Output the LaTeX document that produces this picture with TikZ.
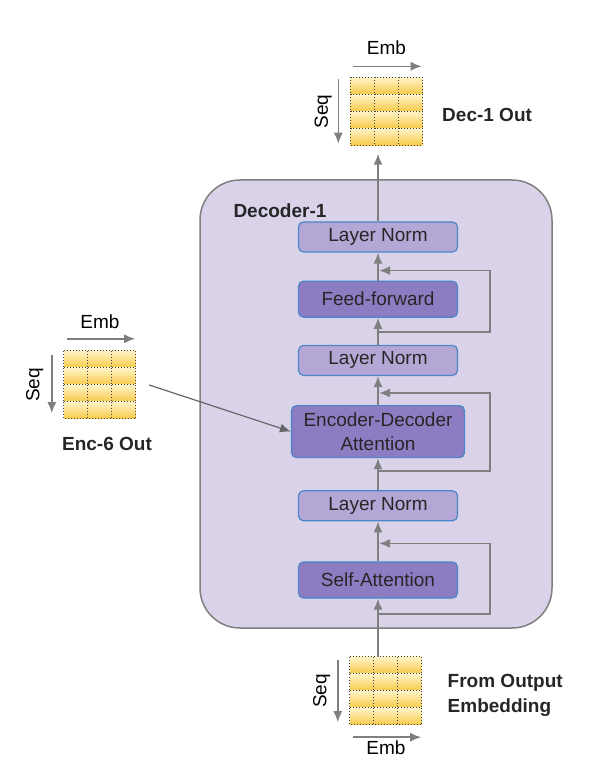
\documentclass[tikz,border=0pt]{standalone}
\usepackage{fontspec}
\setmainfont{Liberation Sans}
\usetikzlibrary{arrows.meta, positioning, calc}

\definecolor{declav}{HTML}{D9D2E9}
\definecolor{normfill}{HTML}{B4A7D6}
\definecolor{blkfill}{HTML}{8E7CC3}
\definecolor{edgeblue}{HTML}{4A86C8}
\definecolor{linegray}{HTML}{7F7F7F}
\definecolor{celltop}{HTML}{FFF4C8}
\definecolor{cellbot}{HTML}{F7C948}

\begin{document}
\begin{tikzpicture}[
    x=1bp, y=1bp,
    >={Latex[length=11bp,width=9bp]},
    font=\fontsize{19bp}{24bp}\selectfont,
    decbox/.style={
        rectangle,
        rounded corners=40bp,
        draw=linegray,
        line width=1.5bp,
        fill=declav,
        minimum width=352bp,
        minimum height=448bp
    },
    norm/.style={
        rectangle,
        rounded corners=5bp,
        draw=edgeblue,
        line width=1.2bp,
        fill=normfill,
        minimum width=159bp,
        minimum height=30bp,
        inner sep=0pt,
        align=center,
        text=black!85
    },
    block/.style={
        norm,
        fill=blkfill,
        minimum height=36bp
    },
    grid/.style={
        rectangle,
        minimum width=72bp,
        minimum height=68bp,
        inner sep=0pt
    },
    cell/.style={
        draw=black!75,
        dotted,
        line width=1bp,
        top color=celltop,
        bottom color=cellbot
    },
    flow/.style={->, draw=linegray, line width=1.8bp},
    axis/.style={->, draw=linegray, line width=1.6bp},
    lbl/.style={
        font=\fontsize{19bp}{25bp}\selectfont\bfseries,
        text=black!85,
        align=left
    }
]

\useasboundingbox (0,0) rectangle (595,-772);

% Decoder container
\node[decbox] (dec) at (376,-404) {};
\node[lbl, anchor=west] (dectitle) at (230,-211) {Decoder-1};

% Main vertical stack
\node[block] (sa) at (378,-580) {Self-Attention};
\node[norm, above=40bp of sa] (ln3) {Layer Norm};
\node[block, minimum width=173bp, minimum height=52bp, above=32bp of ln3] (eda) {Encoder-Decoder\\Attention};
\node[norm, above=29bp of eda] (ln2) {Layer Norm};
\node[block, above=27bp of ln2] (ff) {Feed-forward};
\node[norm, above=28bp of ff] (ln1) {Layer Norm};

% Tensors
\node[grid] (decout) at (386.5,-111.5) {};
\node[grid] (encout) at (100,-385) {};
\node[grid] (embin) at (386,-691) {};

\foreach \g in {decout, encout, embin} {
    \foreach \r in {0,...,3}
        \foreach \c in {0,1,2}
            \draw[cell] ($(\g.north west)+(\c*24,-\r*17)$) rectangle ++(24,-17);
}

% Axes of the tensors
\draw[axis] ([shift={(3,11)}]decout.north west) -- ([shift={(-1,11)}]decout.north east);
\node (decemb) at ($(decout.north)+(0,30)$) {Emb};
\draw[axis] ([shift={(-12,-2)}]decout.north west) -- ([shift={(-12,2)}]decout.south west);
\node[rotate=90] (decseq) at ($(decout.west)+(-27,0)$) {Seq};

\draw[axis] ([shift={(3,12)}]encout.north west) -- ([shift={(-1,12)}]encout.north east);
\node (encemb) at ($(encout.north)+(0,29)$) {Emb};
\draw[axis] ([shift={(-12,-4)}]encout.north west) -- ([shift={(-12,6)}]encout.south west);
\node[rotate=90] (encseq) at ($(encout.west)+(-29,0)$) {Seq};

\draw[axis] ([shift={(3,-12)}]embin.south west) -- ([shift={(-1,-12)}]embin.south east);
\node (inemb) at ($(embin.south)+(0,-22)$) {Emb};
\draw[axis] ([shift={(-12,-3)}]embin.north west) -- ([shift={(-12,3)}]embin.south west);
\node[rotate=90] (inseq) at ($(embin.west)+(-28,0)$) {Seq};

% Tensor labels
\node[lbl, anchor=west] (declbl) at ([shift={(16,-3)}]decout.east) {Dec-1 Out};
\node[lbl] (enclbl) at ($(encout.south)+(7,-25)$) {Enc-6 Out};
\node[lbl, anchor=west] (inlbl) at ([shift={(22,-4)}]embin.east) {From Output\\Embedding};

% Main arrows
\draw[flow] (sa |- embin.north) -- (sa.south);
\draw[flow] (sa) -- (ln3);
\draw[flow] (ln3) -- (eda);
\draw[flow] (eda) -- (ln2);
\draw[flow] (ln2) -- (ff);
\draw[flow] (ff) -- (ln1);
\draw[flow, shorten >=8bp] (ln1.north) -- (ln1 |- decout.south);
\draw[flow, draw=black!60, line width=1.2bp] ([xshift=13bp]encout.east) -- (eda.west);

% Residual connections
\coordinate (saout) at ($(sa.south)+(0,-15)$);
\coordinate (sain) at ($(ln3.south)+(0,-22)$);
\coordinate (edaout) at ($(eda.south)+(0,-13)$);
\coordinate (edain) at ($(ln2.south)+(0,-17)$);
\coordinate (ffout) at ($(ff.south)+(0,-14)$);
\coordinate (ffin) at ($(ln1.south)+(0,-18)$);

\draw[flow, shorten >=1bp] (saout) -- ++(112,0) |- (sain);
\draw[flow, shorten >=1bp] (edaout) -- ++(112,0) |- (edain);
\draw[flow, shorten >=1bp] (ffout) -- ++(112,0) |- (ffin);

\end{tikzpicture}
\end{document}
